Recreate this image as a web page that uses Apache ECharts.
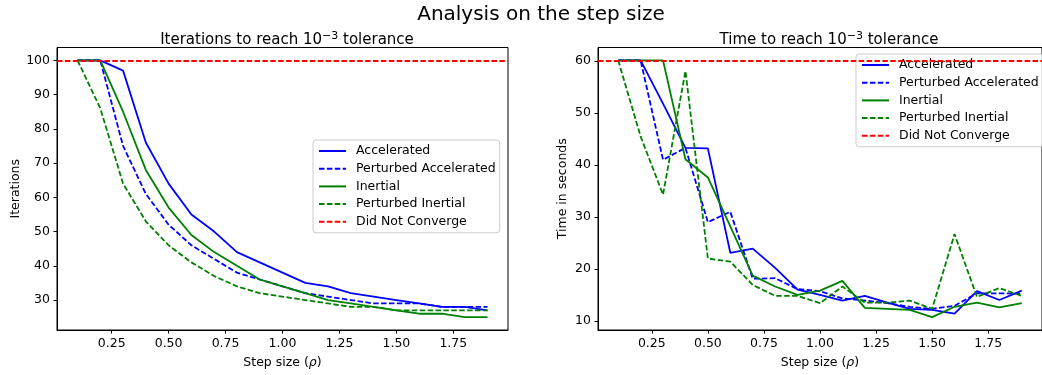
<!DOCTYPE html>
<html lang="en">
<head>
    <meta charset="UTF-8">
    <title>Analysis on the step size</title>
    <script src="https://cdn.jsdelivr.net/npm/echarts@6/dist/echarts.min.js"></script>
    <style>
        html, body { margin: 0; padding: 0; background: #fff; }
        #chart { width: 1042px; height: 375px; }
    </style>
</head>
<body>
    <div id="chart"></div>

    <script>
        // step sizes (rho)
        const stepSizes = [0.1, 0.2, 0.3, 0.4, 0.5, 0.6, 0.7, 0.8, 0.9, 1.0, 1.1, 1.2, 1.3, 1.4, 1.5, 1.6, 1.7, 1.8, 1.9];

        // iterations to reach tolerance
        const itAccelerated = [100, 100, 97, 76, 64, 55, 50, 44, 41, 38, 35, 34, 32, 31, 30, 29, 28, 28, 27];
        const itPerturbedAcc = [100, 100, 75, 61, 52, 46, 42, 38, 36, 34, 32, 31, 30, 29, 29, 29, 28, 28, 28];
        const itInertial = [100, 100, 85, 68, 57, 49, 44, 40, 36, 34, 32, 30, 29, 28, 27, 26, 26, 25, 25];
        const itPerturbedIn = [100, 86, 64, 53, 46, 41, 37, 34, 32, 31, 30, 29, 28, 28, 27, 27, 27, 27, 27];
        const itLimit = 100;

        // time in seconds to reach tolerance
        const tAccelerated = [60.15, 60.15, 51.8, 43.3, 43.2, 23.1, 23.9, 20.2, 16.0, 15.0, 13.9, 14.8, 13.5, 12.3, 12.1, 11.4, 15.7, 14.0, 15.8];
        const tPerturbedAcc = [60.15, 60.15, 41.0, 43.3, 29.0, 31.0, 18.1, 18.2, 16.1, 15.7, 14.3, 13.9, 13.4, 12.7, 12.3, 12.9, 15.3, 15.3, 15.2];
        const tInertial = [60.15, 60.15, 60.15, 41.1, 37.6, 28.2, 18.7, 16.6, 15.0, 15.8, 17.7, 12.5, 12.3, 12.1, 10.7, 12.7, 13.5, 12.6, 13.4];
        const tPerturbedIn = [60.15, 45.5, 34.3, 58.1, 22.0, 21.4, 16.9, 14.8, 14.8, 13.4, 16.6, 13.5, 13.5, 13.9, 12.3, 26.7, 14.6, 16.3, 14.8];
        const tLimit = 60.15;

        // tick labels
        const xTicks = [0.25, 0.5, 0.75, 1.0, 1.25, 1.5, 1.75];
        const itTicks = [30, 40, 50, 60, 70, 80, 90, 100];
        const tTicks = [10, 20, 30, 40, 50, 60];

        const names = ['Accelerated', 'Perturbed Accelerated', 'Inertial', 'Perturbed Inertial', 'Did Not Converge'];

        const FONT = 'DejaVu Sans';
        const FS = 12.5;
        const DASH = [5.5, 2.4];
        const pairs = arr => stepSizes.map((x, i) => [x, arr[i]]);

        function lineSeries(name, data, color, dashed, idx) {
            return {
                name: name,
                type: 'line',
                xAxisIndex: idx,
                yAxisIndex: idx,
                data: pairs(data),
                symbol: 'none',
                animation: false,
                lineStyle: { color: color, width: 1.8, type: dashed ? DASH : 'solid' },
                itemStyle: { color: color }
            };
        }

        function limitSeries(value, idx) {
            return {
                name: 'Did Not Converge',
                type: 'line',
                xAxisIndex: idx,
                yAxisIndex: idx,
                data: [],
                symbol: 'none',
                animation: false,
                z: 5,
                lineStyle: { color: '#ff0000', width: 1.8, type: DASH },
                itemStyle: { color: '#ff0000' },
                markLine: {
                    silent: true,
                    animation: false,
                    symbol: ['none', 'none'],
                    label: { show: false },
                    lineStyle: { color: '#ff0000', width: 1.8, type: DASH },
                    data: [{ yAxis: value }]
                }
            };
        }

        function xAxis(idx) {
            return {
                type: 'value',
                gridIndex: idx,
                min: 0.01,
                max: 1.99,
                name: '{a|Step size (}{i|ρ}{a|)}',
                nameLocation: 'middle',
                nameGap: 26,
                nameTextStyle: {
                    rich: {
                        a: { fontFamily: FONT, fontSize: FS, color: '#000' },
                        i: { fontFamily: FONT, fontSize: FS, color: '#000', fontStyle: 'italic' }
                    }
                },
                splitLine: { show: false },
                axisLine: { show: true, lineStyle: { color: '#000', width: 1 } },
                axisTick: { show: true, customValues: xTicks, length: 3.5, lineStyle: { color: '#000' } },
                axisLabel: {
                    customValues: xTicks,
                    formatter: v => v.toFixed(2),
                    fontFamily: FONT, fontSize: FS, color: '#000', margin: 7
                }
            };
        }

        function yAxis(idx, min, max, ticks, name, gap) {
            return {
                type: 'value',
                gridIndex: idx,
                min: min,
                max: max,
                name: name,
                nameLocation: 'middle',
                nameGap: gap,
                nameTextStyle: { fontFamily: FONT, fontSize: FS, color: '#000' },
                splitLine: { show: false },
                axisLine: { show: true, lineStyle: { color: '#000', width: 1 } },
                axisTick: { show: true, customValues: ticks, length: 3.5, lineStyle: { color: '#000' } },
                axisLabel: {
                    customValues: ticks,
                    fontFamily: FONT, fontSize: FS, color: '#000', margin: 7
                }
            };
        }

        function legend(left, top) {
            return {
                data: names,
                orient: 'vertical',
                left: left,
                top: top,
                selectedMode: false,
                itemWidth: 27,
                itemHeight: 14,
                itemGap: 4.7,
                padding: [4.5, 4, 4.5, 5],
                backgroundColor: 'rgba(255,255,255,0.8)',
                borderColor: '#cccccc',
                borderWidth: 1,
                borderRadius: 3,
                itemStyle: { opacity: 0 },
                textStyle: { fontFamily: FONT, fontSize: FS, color: '#000', padding: [0, 0, 0, 5] }
            };
        }

        function subTitle(label, center) {
            return {
                text: '{n|' + label + ' 10}{s|−3}{n| tolerance}',
                left: center,
                top: 26,
                textAlign: 'center',
                textStyle: {
                    fontWeight: 'normal',
                    rich: {
                        n: { fontFamily: FONT, fontSize: 15, fontWeight: 'normal', color: '#000', lineHeight: 19 },
                        s: { fontFamily: FONT, fontSize: 11, fontWeight: 'normal', color: '#000', lineHeight: 11, verticalAlign: 'top' }
                    }
                }
            };
        }

        const chart = echarts.init(document.getElementById('chart'), null, { renderer: 'canvas' });
        chart.setOption({
            backgroundColor: '#fff',
            animation: false,
            title: [
                { text: 'Analysis on the step size', left: 536, top: 0, textAlign: 'center',
                  textStyle: { fontFamily: FONT, fontSize: 20, fontWeight: 'normal', color: '#000' } },
                subTitle('Iterations to reach', 282),
                subTitle('Time to reach', 824)
            ],
            legend: [legend(313, 140), legend(856, 54)],
            grid: [
                { left: 57, top: 47.5, width: 451, height: 282.5, show: true, borderColor: '#000', borderWidth: 1, containLabel: false },
                { left: 598, top: 47.5, width: 452, height: 282.5, show: true, borderColor: '#000', borderWidth: 1, containLabel: false }
            ],
            xAxis: [xAxis(0), xAxis(1)],
            yAxis: [
                yAxis(0, 21.25, 103.75, itTicks, 'Iterations', 31),
                yAxis(1, 8.23, 62.62, tTicks, 'Time in seconds', 29)
            ],
            series: [
                lineSeries('Accelerated', itAccelerated, '#0000ff', false, 0),
                lineSeries('Perturbed Accelerated', itPerturbedAcc, '#0000ff', true, 0),
                lineSeries('Inertial', itInertial, '#008000', false, 0),
                lineSeries('Perturbed Inertial', itPerturbedIn, '#008000', true, 0),
                limitSeries(itLimit, 0),
                lineSeries('Accelerated', tAccelerated, '#0000ff', false, 1),
                lineSeries('Perturbed Accelerated', tPerturbedAcc, '#0000ff', true, 1),
                lineSeries('Inertial', tInertial, '#008000', false, 1),
                lineSeries('Perturbed Inertial', tPerturbedIn, '#008000', true, 1),
                limitSeries(tLimit, 1)
            ]
        });

        window.addEventListener('resize', () => chart.resize());
    </script>
</body>
</html>
